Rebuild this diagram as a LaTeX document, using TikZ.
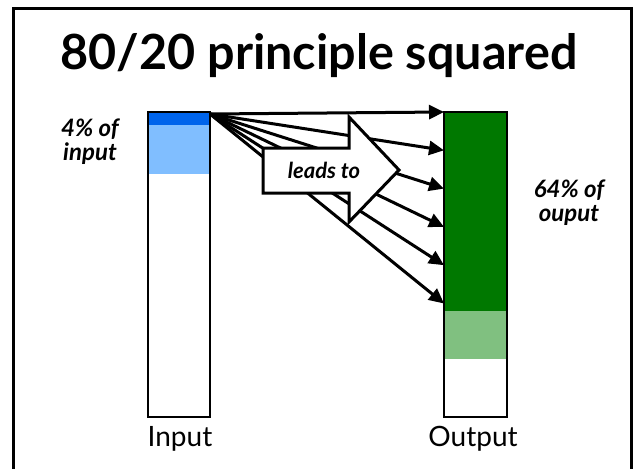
\documentclass[tikz,border=0pt]{standalone}
\usepackage{fontspec}
\setmainfont{Lato}
\usetikzlibrary{arrows.meta}

\definecolor{inhot}{RGB}{0,100,235}
\definecolor{inwarm}{RGB}{128,190,255}
\definecolor{outhot}{RGB}{0,120,0}
\definecolor{outwarm}{RGB}{128,192,128}

\newcommand*{\barw}{62}
\newcommand*{\bartop}{112}
\newcommand*{\barbot}{417}

\begin{document}
\begin{tikzpicture}
[
	x=1pt,
	y=-1pt,
	bar/.style={draw,line width=2pt,inner sep=0pt,minimum width=\barw pt,minimum height=305pt},
	flow/.style={-{Triangle[length=15pt,width=14pt]},line width=3pt},
	bigarrow/.style={draw,fill=white,line width=3pt,line join=miter},
	label/.style={font=\bfseries\itshape\fontsize{24}{24}\selectfont,align=center,inner sep=0pt},
	caption/.style={font=\fontsize{28}{30}\selectfont,inner sep=0pt}
]

	\useasboundingbox (0,0) rectangle (636,468);

	% frame
	\draw[line width=3pt] (13,485) -- (13,9) -- (631,9) -- (631,485);

	% title
	\node[font=\bfseries\fontsize{48.5}{50}\selectfont,anchor=base,inner sep=0pt] (title) at (319,70) {80/20 principle squared};

	% input bar
	\fill[inwarm] (148,\bartop) rectangle (210,174);
	\fill[inhot] (148,\bartop) rectangle (210,125);
	\node[bar] (inbar) at (179,264.5) {};

	% output bar
	\fill[outhot] (444,\bartop) rectangle (507,311);
	\fill[outwarm] (444,311) rectangle (507,359);
	\node[bar,minimum width=63pt] (outbar) at (475.5,264.5) {};

	% arrows
	\coordinate (src) at (210,114);
	\foreach \i in {0,...,5}
	{
		\coordinate (t\i) at (444,{112+38.3*\i});
		\draw[flow] (src) -- (t\i);
	}

	% leads to
	\draw[bigarrow] (263,148) -- (349,148) -- (349,117) -- (399,170) -- (349,222) -- (349,193) -- (263,193) -- cycle;
	\node[label,font=\bfseries\itshape\fontsize{22}{22}\selectfont,anchor=base] (leads) at (324,178) {leads to};

	% labels
	\node[label,anchor=base] (inlabel) at (90,160) {4\% of\\input};
	\node[label,anchor=base] (outlabel) at (569,221) {64\% of\\ouput};

	\node[caption,anchor=base] (incap) at (180,446) {Input};
	\node[caption,anchor=base] (outcap) at (473,446) {Output};

\end{tikzpicture}
\end{document}
